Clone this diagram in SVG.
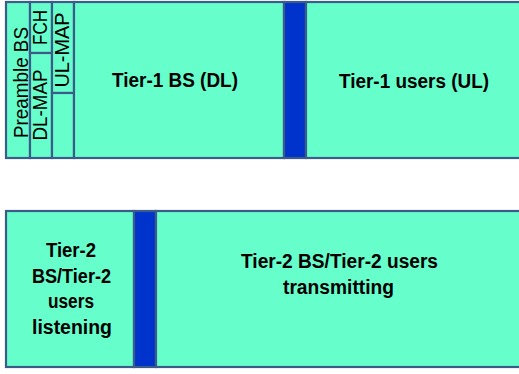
<svg xmlns="http://www.w3.org/2000/svg" width="519" height="374" viewBox="0 0 519 374">
  <style>
    .cell { fill: #66FFCC; stroke: #3B5B8A; stroke-width: 2.2; }
    .guard { fill: #0033CC; stroke: #3B5B8A; stroke-width: 2.2; }
    .lbl { font-family: "Liberation Sans", Arial, sans-serif; font-size: 19.5px; font-weight: bold; fill: #000; text-anchor: middle; }
    .vlbl { font-family: "Liberation Sans", Arial, sans-serif; font-size: 19.5px; fill: #000; text-anchor: middle; }
  </style>
  <rect width="519" height="374" fill="#FFFFFF"/>

  <!-- Frame 1: tier-1 downlink / uplink -->
  <g id="preamble-bs">
    <rect class="cell" x="6" y="2" width="24" height="156"/>
    <text class="vlbl" transform="translate(28,82.5) rotate(-90)" textLength="111" lengthAdjust="spacingAndGlyphs">Preamble BS</text>
  </g>
  <g id="fch">
    <rect class="cell" x="30" y="2" width="22" height="51"/>
    <text class="vlbl" transform="translate(47,27.5) rotate(-90)" textLength="35" lengthAdjust="spacingAndGlyphs">FCH</text>
  </g>
  <g id="dl-map">
    <rect class="cell" x="30" y="53" width="22" height="105"/>
    <text class="vlbl" transform="translate(47,105) rotate(-90)" textLength="71" lengthAdjust="spacingAndGlyphs">DL-MAP</text>
  </g>
  <g id="ul-map">
    <rect class="cell" x="52" y="2" width="22" height="91"/>
    <text class="vlbl" transform="translate(68.5,50) rotate(-90)" textLength="75" lengthAdjust="spacingAndGlyphs">UL-MAP</text>
  </g>
  <g id="ul-map-pad">
    <rect class="cell" x="52" y="93" width="22" height="65"/>
  </g>
  <g id="tier1-bs-dl">
    <rect class="cell" x="74" y="2" width="210" height="156"/>
    <text class="lbl" x="175" y="87" textLength="126" lengthAdjust="spacingAndGlyphs">Tier-1 BS (DL)</text>
  </g>
  <g id="gap-1">
    <rect class="guard" x="284" y="2" width="22" height="156"/>
  </g>
  <g id="tier1-users-ul">
    <rect class="cell" x="306" y="2" width="220" height="156"/>
    <text class="lbl" x="414" y="88" textLength="150" lengthAdjust="spacingAndGlyphs">Tier-1 users (UL)</text>
  </g>

  <!-- Frame 2: tier-2 listening / transmitting -->
  <g id="tier2-listening">
    <rect class="cell" x="6" y="211" width="128" height="156"/>
    <text class="lbl" x="71" y="257" textLength="50" lengthAdjust="spacingAndGlyphs">Tier-2</text>
    <text class="lbl" x="71.5" y="282.5" textLength="79" lengthAdjust="spacingAndGlyphs">BS/Tier-2</text>
    <text class="lbl" x="71" y="308" textLength="46" lengthAdjust="spacingAndGlyphs">users</text>
    <text class="lbl" x="72" y="334" textLength="80" lengthAdjust="spacingAndGlyphs">listening</text>
  </g>
  <g id="gap-2">
    <rect class="guard" x="134" y="211" width="22" height="156"/>
  </g>
  <g id="tier2-transmitting">
    <rect class="cell" x="156" y="211" width="370" height="156"/>
    <text class="lbl" x="339.5" y="268" textLength="197" lengthAdjust="spacingAndGlyphs">Tier-2 BS/Tier-2 users</text>
    <text class="lbl" x="338.5" y="294" textLength="111" lengthAdjust="spacingAndGlyphs">transmitting</text>
  </g>
</svg>
